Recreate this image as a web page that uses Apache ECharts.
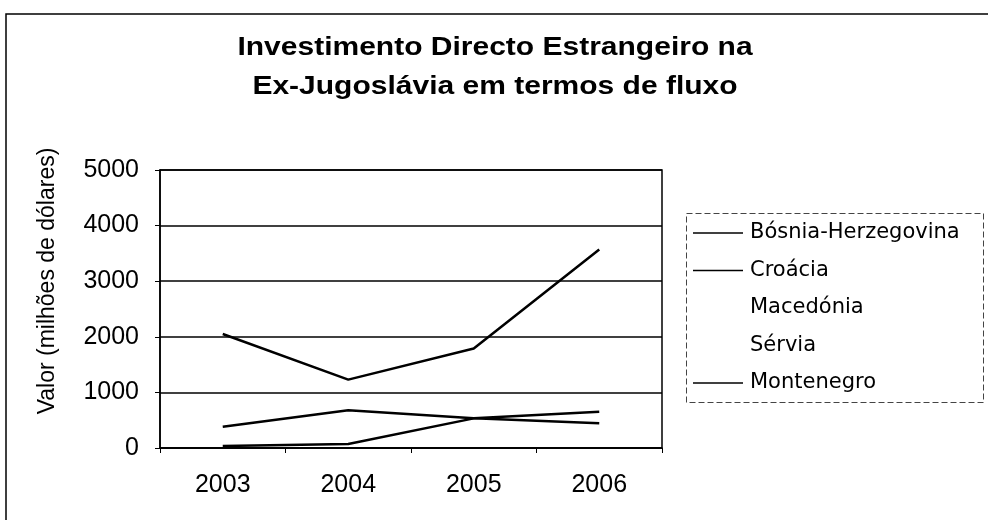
<!DOCTYPE html>
<html>
<head>
<meta charset="utf-8">
<script src="https://cdn.jsdelivr.net/npm/echarts@6/dist/echarts.min.js"></script>
<style>
html,body{margin:0;padding:0;background:#fff;}
#chart{width:988px;height:520px;}
</style>
</head>
<body>
<div id="chart"></div>
<script>
const categories = ['2003', '2004', '2005', '2006'];
const seriesNames = ['Bósnia-Herzegovina', 'Croácia', 'Macedónia', 'Sérvia', 'Montenegro'];
const bosnia = [383, 680, 533, 443];
const croacia = [2050, 1230, 1790, 3570];
const macedonia = [];
const servia = [];
const montenegro = [35, 72, 533, 652];
const yTicks = [0, 1000, 2000, 3000, 4000, 5000];
const titleLines = ['Investimento Directo Estrangeiro na', 'Ex-Jugoslávia em termos de fluxo'];
const yAxisTitle = 'Valor (milhões de dólares)';

const font = 'Arial, "Liberation Sans", sans-serif';
const chart = echarts.init(document.getElementById('chart'));
const dataSets = [bosnia, croacia, macedonia, servia, montenegro];
const colors = ['#000', '#000', '#fff', '#fff', '#000'];

chart.setOption({
  animation: false,
  backgroundColor: '#fff',
  grid: { left: 160, top: 170, width: 502, height: 278, show: true, borderColor: '#000', borderWidth: 1.5 },
  legend: {
    orient: 'vertical', left: 686, top: 213,
    padding: [9, 8, 8, 7],
    itemGap: 15.5, itemWidth: 50, itemHeight: 22,
    borderWidth: 0,
    textStyle: { fontFamily: '"DejaVu Sans", sans-serif', fontSize: 21, lineHeight: 22, color: '#000', padding: [0, 0, 0, 2] },
    data: seriesNames.map(n => ({ name: n, icon: 'path://M0,10 L50,10 L50,11.5 L0,11.5 Z' }))
  },
  xAxis: {
    type: 'category', data: categories, boundaryGap: true,
    axisLine: { lineStyle: { color: '#000', width: 1.5 } },
    axisTick: { show: true, length: 5, lineStyle: { color: '#000' } },
    axisLabel: { fontFamily: font, fontSize: 25, color: '#000', margin: 25 }
  },
  yAxis: {
    type: 'value', min: 0, max: 5000, interval: 1000,
    axisLine: { show: true, lineStyle: { color: '#000', width: 1.5 } },
    axisTick: { show: true, length: 5, lineStyle: { color: '#000' } },
    axisLabel: { fontFamily: font, fontSize: 25, color: '#000', margin: 21,
      formatter: v => yTicks.includes(v) ? String(v) : '' },
    splitLine: { show: true, lineStyle: { color: '#000', width: 1.5 } }
  },
  graphic: [
    { type: 'polyline', shape: { points: [[6, 520], [6, 14], [988, 14]] }, style: { stroke: '#000', lineWidth: 1.5, fill: null } },
    { type: 'rect', shape: { x: 686.5, y: 213.5, width: 297, height: 189 },
      style: { stroke: '#444', lineWidth: 1, lineDash: [6, 3], fill: null } },
    { type: 'text', x: 495, y: 48, scaleX: 1.2,
      style: { text: titleLines[0], fontFamily: font, fontSize: 25, fontWeight: 'bold', fill: '#000', align: 'center', verticalAlign: 'middle' } },
    { type: 'text', x: 495, y: 87, scaleX: 1.2,
      style: { text: titleLines[1], fontFamily: font, fontSize: 25, fontWeight: 'bold', fill: '#000', align: 'center', verticalAlign: 'middle' } },
    { type: 'text', x: 48, y: 281, rotation: Math.PI / 2,
      style: { text: yAxisTitle, fontFamily: font, fontSize: 23, fill: '#000', align: 'center', verticalAlign: 'middle' } }
  ],
  series: seriesNames.map((n, i) => ({
    name: n, type: 'line', data: dataSets[i], symbol: 'none', showSymbol: false,
    lineStyle: { color: colors[i], width: 2.5 }, itemStyle: { color: colors[i] }
  }))
});
</script>
</body>
</html>
